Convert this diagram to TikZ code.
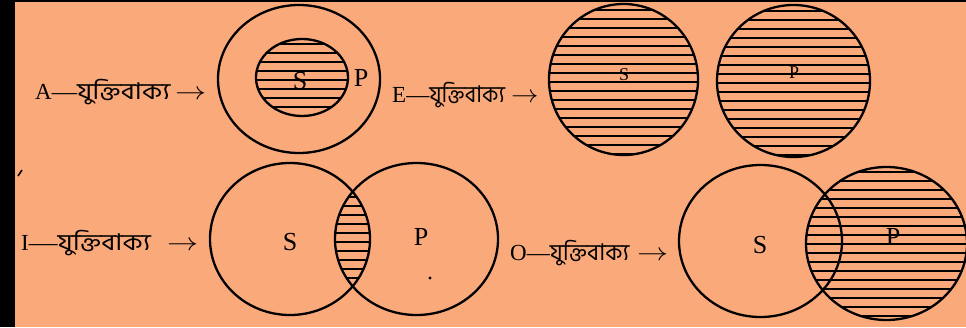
\documentclass[tikz,border=0pt]{standalone}
\usepackage{fontspec}
\setmainfont{Liberation Serif}
\newfontfamily\bn[Script=Bengali]{Hind Siliguri}
\newcommand\bnw[2]{\scalebox{#1}[1]{\bn #2}}
\newcommand\arr{\scalebox{1.25}[1]{$\rightarrow$}}
\definecolor{bg}{RGB}{250,169,123}
\begin{document}
\begin{tikzpicture}[x=1pt,y=-1pt,
  ring/.style={line width=2.3pt, draw=black},
  hatch/.style={line width=1.8pt, draw=black},
  lab/.style={font=\fontsize{23}{27}\selectfont, inner sep=0pt, anchor=base west},
  letr/.style={font=\fontsize{26}{30}\selectfont, inner sep=0pt},
  smallletr/.style={font=\fontsize{18}{22}\selectfont, inner sep=0pt}]
\useasboundingbox (0,0) rectangle (966,327);
\fill[bg] (0,0) rectangle (966,327);
\fill[black] (0,0) rectangle (15,327);
\fill[black] (0,0) rectangle (966,1.5);

% ---------- A row ----------
\node[lab] (la) at (35,99) {A\scalebox{1.1}[1]{—}\bnw{1.17}{যুক্তিবাক্য}};
\node[lab] (laArr) at (175,99) {\arr};
\begin{scope}
  \clip (302,77.5) ellipse [x radius=46pt, y radius=38.5pt];
  \foreach \yy in {44,53,...,116} \draw[hatch] (250,\yy) -- (354,\yy);
\end{scope}
\node[letr] (aS) at (300,81) {S};
\node[letr] (aP) at (361,78) {P};
\draw[ring] (299,79) ellipse [x radius=81pt, y radius=74pt];
\draw[ring] (302,77.5) ellipse [x radius=46pt, y radius=38.5pt];

% ---------- E row ----------
\node[lab] (le) at (392,102) {E—\bnw{0.95}{যুক্তিবাক্য}};
\node[lab] (leArr) at (511,102) {\scalebox{1.1}[1]{$\rightarrow$}};
\node[smallletr] (eS) at (624,75) {S};
\node[smallletr] (eP) at (794,73) {P};
\begin{scope}
  \clip (623.5,79.5) ellipse [x radius=74.5pt, y radius=75.5pt];
  \foreach \yy in {10,19,...,156} \draw[hatch] (545,\yy) -- (702,\yy);
\end{scope}
\begin{scope}
  \clip (793.5,81) ellipse [x radius=76.5pt, y radius=76pt];
  \foreach \yy in {11,20,...,158} \draw[hatch] (713,\yy) -- (874,\yy);
\end{scope}
\draw[ring] (623.5,79.5) ellipse [x radius=74.5pt, y radius=75.5pt];
\draw[ring] (793.5,81) ellipse [x radius=76.5pt, y radius=76pt];

% ---------- I row ----------
\draw[line width=1.6pt] (18,176) -- (22,170);
\node[lab] (li) at (21,250) {I\scalebox{1.25}[1]{—}\bnw{1.17}{যুক্তিবাক্য}};
\node[lab] (liArr) at (167,250) {\arr};
\begin{scope}
  \clip (290,239) ellipse [x radius=80pt, y radius=76pt];
  \clip (416.5,239) ellipse [x radius=81.5pt, y radius=76pt];
  \foreach \yy in {170,179,...,312} \draw[hatch] (330,\yy) -- (375,\yy);
\end{scope}
\draw[ring] (290,239) ellipse [x radius=80pt, y radius=76pt];
\draw[ring] (416.5,239) ellipse [x radius=81.5pt, y radius=76pt];
\node[letr] (iS) at (290,242) {S};
\node[letr] (iP) at (421,237) {P};
\fill (430,278) circle [radius=1.7pt];

% ---------- O row ----------
\node[lab] (lo) at (510,260) {O—\bnw{1.0}{যুক্তিবাক্য}};
\node[lab] (loArr) at (637,260) {\arr};
\node[letr] (oS) at (760,245) {S};
\node[letr] (oP) at (893,237) {P};
\begin{scope}
  \clip (886.5,243.5) ellipse [x radius=80.5pt, y radius=76.5pt];
  \foreach \yy in {172,181,...,320} \draw[hatch] (803,\yy) -- (970,\yy);
\end{scope}
\draw[ring] (760.5,241) ellipse [x radius=81.5pt, y radius=76pt];
\draw[ring] (886.5,243.5) ellipse [x radius=80.5pt, y radius=76.5pt];
\end{tikzpicture}
\end{document}
